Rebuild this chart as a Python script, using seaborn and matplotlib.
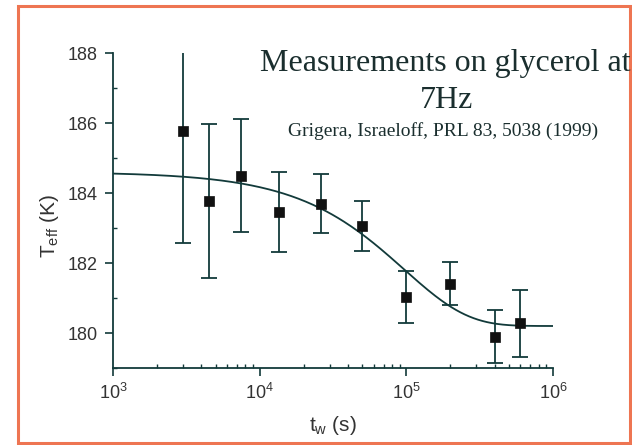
import numpy as np
import pandas as pd
import matplotlib
matplotlib.use("Agg")
import matplotlib.pyplot as plt
from matplotlib.patches import Rectangle
from matplotlib.ticker import LogLocator, FixedLocator, MultipleLocator, NullFormatter
import seaborn as sns

# Waiting times (s), effective temperature (K) and its uncertainty
t_w = [3000, 4500, 7500, 13500, 26000, 50000, 100000, 200000, 400000, 600000]
t_eff = [185.78, 183.76, 184.50, 183.46, 183.69, 183.05, 181.03, 181.41, 179.90, 180.28]
t_err = [3.20, 2.20, 1.62, 1.14, 0.84, 0.72, 0.73, 0.62, 0.76, 0.96]

# Exponential relaxation fit: T = T_inf + dT * exp(-t / tau)
fit_T_inf = 180.2
fit_dT = 4.4
fit_tau = 96500.0

x_ticks = [1e3, 1e4, 1e5, 1e6]
x_tick_labels = ["$10^{3}$", "$10^{4}$", "$10^{5}$", "$10^{6}$"]
y_ticks = [180, 182, 184, 186, 188]

sns.set_theme(style="ticks")
plt.rcParams["font.family"] = ["Liberation Sans", "DejaVu Sans"]
plt.rcParams["mathtext.fontset"] = "custom"
plt.rcParams["mathtext.rm"] = "Liberation Sans"
plt.rcParams["mathtext.it"] = "Liberation Sans"
plt.rcParams["mathtext.default"] = "regular"

ink = "#123a3a"
fig = plt.figure(figsize=(6.32, 4.45), dpi=100)
fig.patch.set_facecolor("white")
ax = fig.add_axes([113 / 632, 1 - 368 / 445, 440 / 632, 315 / 445])
ax.set_xscale("log")

data = pd.DataFrame({"t_w": t_w, "T_eff": t_eff, "err": t_err})
t_curve = np.logspace(3, 6, 300)
curve = pd.DataFrame({"t": t_curve,
                      "T": fit_T_inf + fit_dT * np.exp(-t_curve / fit_tau)})

sns.lineplot(data=curve, x="t", y="T", ax=ax, color=ink, lw=1.3, zorder=2)
ax.errorbar(data["t_w"], data["T_eff"], yerr=data["err"], fmt="none",
            ecolor=ink, elinewidth=1.3, capsize=6, capthick=1.3, zorder=3)
sns.scatterplot(data=data, x="t_w", y="T_eff", ax=ax, marker="s", s=45,
                color="#111111", edgecolor="#111111", linewidth=0.5, zorder=4)

ax.set_xlim(1e3, 1e6)
ax.set_ylim(179.0, 188.0)
ax.xaxis.set_major_locator(FixedLocator(x_ticks))
ax.set_xticklabels(x_tick_labels)
ax.xaxis.set_minor_locator(LogLocator(base=10, subs=np.arange(2, 10), numticks=20))
ax.xaxis.set_minor_formatter(NullFormatter())
ax.yaxis.set_major_locator(FixedLocator(y_ticks))
ax.yaxis.set_minor_locator(MultipleLocator(1))

for side in ("top", "right"):
    ax.spines[side].set_visible(False)
for side in ("left", "bottom"):
    ax.spines[side].set_color(ink)
    ax.spines[side].set_linewidth(1.3)
ax.tick_params(which="major", direction="out", length=6, width=1.2, color=ink,
               labelsize=13, labelcolor="#333333", pad=5)
ax.tick_params(which="minor", direction="in", length=3, width=1.0, color=ink)

ax.set_xlabel("t$_{w}$ (s)", fontsize=15, color="#333333", labelpad=8)
ax.set_ylabel("T$_{eff}$ (K)", fontsize=15, color="#333333")
ax.yaxis.set_label_coords(-0.118, 0.45)

serif = ["Liberation Serif", "DejaVu Serif"]
fig.text(445 / 632, 1 - 64 / 445, "Measurements on glycerol at", family=serif,
         fontsize=23, color="#1a2e2e", ha="center", va="center")
fig.text(447 / 632, 1 - 101 / 445, "7Hz", family=serif,
         fontsize=23, color="#1a2e2e", ha="center", va="center")
fig.text(443 / 632, 1 - 131 / 445, "Grigera, Israeloff, PRL 83, 5038 (1999)",
         family=serif, fontsize=14, color="#1a2e2e", ha="center", va="center")

fig.patches.append(Rectangle((18 / 632, 2 / 445), 612 / 632, 437 / 445,
                             transform=fig.transFigure, fill=False,
                             edgecolor="#ee7552", linewidth=2.2))

fig.savefig("out.png", dpi=100, facecolor="white")
